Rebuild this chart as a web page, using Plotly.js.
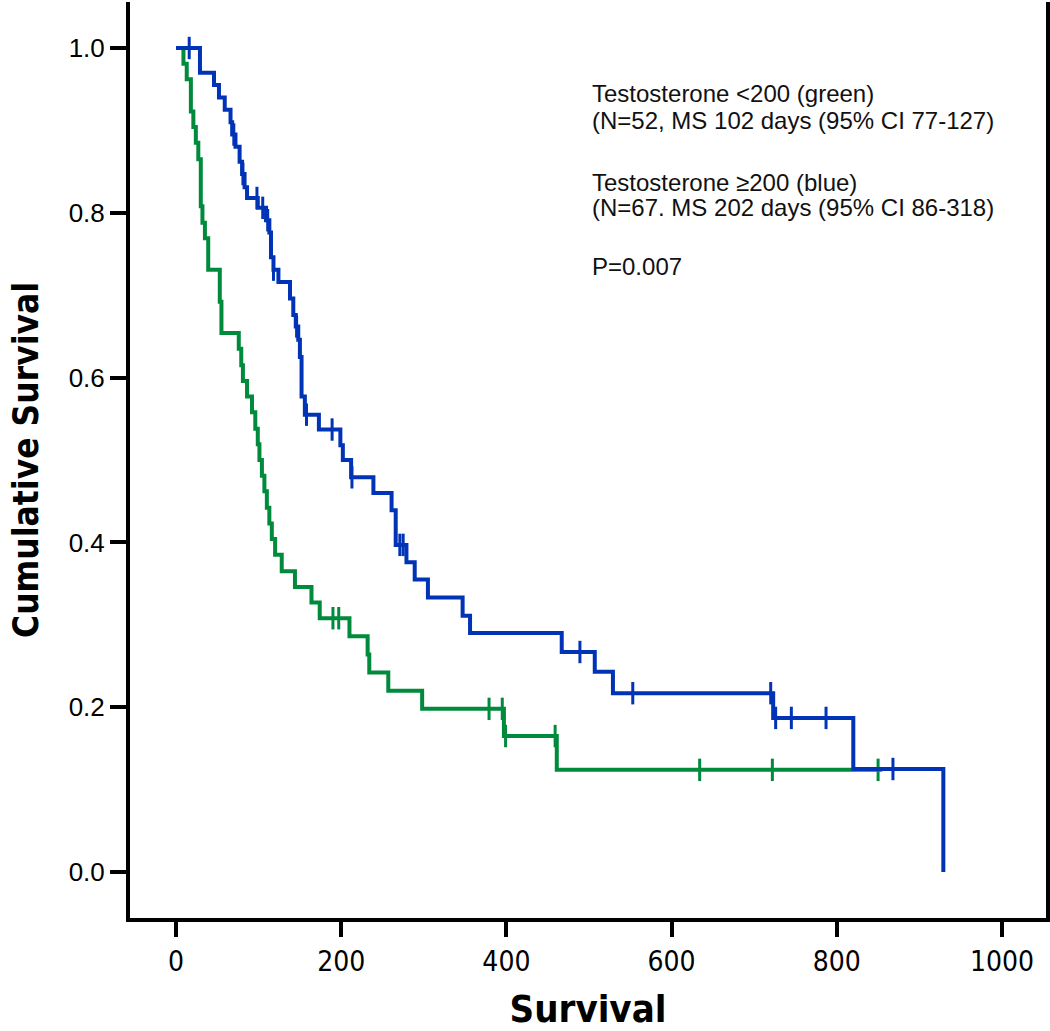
<!DOCTYPE html>
<html>
<head>
<meta charset="utf-8">
<script src="https://cdn.plot.ly/plotly-3.0.1.min.js"></script>
<style>html,body{margin:0;padding:0;background:#fff;}#chart{width:1050px;height:1031px;}</style>
</head>
<body>
<div id="chart"></div>
<script>
// Testosterone <200 (green), N=52 : step times (days) and cumulative survival
const greenTimes = [0, 9, 13, 18, 21, 24, 27, 30, 32, 35, 39, 53, 55, 76, 79, 81, 86, 92, 96, 99, 101, 104, 107, 110, 113, 116, 120, 128, 144, 164, 174, 210, 232, 234, 257, 298, 397, 461, 855];
const greenSurv  = [1.0, 0.981, 0.962, 0.923, 0.904, 0.885, 0.865, 0.808, 0.788, 0.769, 0.731, 0.692, 0.654, 0.635, 0.615, 0.596, 0.577, 0.558, 0.538, 0.519, 0.500, 0.481, 0.462, 0.442, 0.423, 0.404, 0.385, 0.365, 0.346, 0.327, 0.308, 0.286, 0.264, 0.242, 0.220, 0.198, 0.165, 0.124, 0.124];
const greenCensorTimes = [190, 197, 379, 395, 399, 459, 634, 722, 850];
const greenCensorSurv  = [0.308, 0.308, 0.198, 0.198, 0.165, 0.165, 0.124, 0.124, 0.124];

// Testosterone >=200 (blue), N=67
const blueTimes = [0, 29, 46, 52, 59, 66, 68, 72, 77, 80, 83, 86, 99, 109, 113, 115, 118, 124, 138, 142, 145, 148, 150, 152, 156, 173, 199, 202, 212, 239, 261, 266, 279, 289, 305, 347, 356, 467, 507, 529, 723, 820, 929];
const blueSurv  = [1.0, 0.970, 0.955, 0.940, 0.925, 0.910, 0.895, 0.880, 0.862, 0.847, 0.831, 0.818, 0.806, 0.791, 0.776, 0.746, 0.731, 0.716, 0.696, 0.676, 0.662, 0.646, 0.625, 0.577, 0.555, 0.537, 0.518, 0.500, 0.479, 0.460, 0.439, 0.397, 0.376, 0.355, 0.333, 0.311, 0.290, 0.267, 0.243, 0.217, 0.187, 0.125, 0.0];
const blueCensorTimes = [16, 70, 81, 98, 105, 111, 118, 146, 158, 189, 213, 271, 275, 489, 553, 720, 726, 745, 787, 868];
const blueCensorSurv  = [1.0, 0.895, 0.847, 0.818, 0.806, 0.791, 0.731, 0.662, 0.555, 0.537, 0.479, 0.397, 0.397, 0.267, 0.217, 0.217, 0.187, 0.187, 0.187, 0.125];

const xTicks = [0, 200, 400, 600, 800, 1000];
const yTicks = [0.0, 0.2, 0.4, 0.6, 0.8, 1.0];

const noteLines = [
  "Testosterone <200 (green)",
  "(N=52, MS 102 days (95% CI 77-127)",
  "Testosterone \u2265200 (blue)",
  "(N=67. MS 202 days (95% CI 86-318)",
  "P=0.007"
];
const noteY = [0.945, 0.912, 0.837, 0.806, 0.735];

const GREEN = '#008a3b';
const BLUE = '#0033b5';
const NARROW = 'Liberation Sans Narrow, Arial Narrow, DejaVu Sans Condensed, sans-serif';

const traces = [
  {x: greenTimes, y: greenSurv, mode: 'lines', line: {shape: 'hv', color: GREEN, width: 4}, hoverinfo: 'skip'},
  {x: greenCensorTimes, y: greenCensorSurv, mode: 'markers',
   marker: {symbol: 'line-ns', size: 16, color: GREEN, line: {color: GREEN, width: 3}}, hoverinfo: 'skip'},
  {x: blueTimes, y: blueSurv, mode: 'lines', line: {shape: 'hv', color: BLUE, width: 4}, hoverinfo: 'skip'},
  {x: blueCensorTimes, y: blueCensorSurv, mode: 'markers',
   marker: {symbol: 'line-ns', size: 16, color: BLUE, line: {color: BLUE, width: 3}}, hoverinfo: 'skip'}
];

const annotations = noteLines.map((t, i) => ({
  text: t, x: 501, y: noteY[i], xref: 'x', yref: 'y', xanchor: 'left', yanchor: 'middle',
  showarrow: false, font: {family: 'Liberation Sans, Arial, sans-serif', size: 24, color: '#111'}
}));

const layout = {
  width: 1050, height: 1031,
  margin: {l: 130, r: 4, t: 2, b: 113, pad: 0},
  paper_bgcolor: '#fff', plot_bgcolor: '#fff',
  showlegend: false,
  xaxis: {
    range: [-55.7, 1053.3], tickvals: xTicks, ticktext: xTicks.map(String),
    showgrid: false, zeroline: false,
    showline: true, linecolor: '#000', linewidth: 4, mirror: false,
    ticks: 'outside', ticklen: 15, tickwidth: 4, tickcolor: '#000',
    tickfont: {family: NARROW, size: 28, color: '#000'},
    title: {text: 'Survival', standoff: 38,
      font: {family: NARROW, size: 38, color: '#000', weight: 'bold'}}
  },
  yaxis: {
    range: [-0.0558, 1.0558], tickvals: yTicks, ticktext: yTicks.map(v => v.toFixed(1)),
    showgrid: false, zeroline: false,
    showline: true, linecolor: '#000', linewidth: 4, mirror: true,
    ticks: 'outside', ticklen: 16, tickwidth: 4, tickcolor: '#000',
    tickfont: {family: 'Liberation Sans, Arial, sans-serif', size: 26, color: '#000'},
    title: {text: 'Cumulative Survival', standoff: 20,
      font: {family: NARROW, size: 35, color: '#000', weight: 'bold'}}
  },
  annotations: annotations
};

Plotly.newPlot('chart', traces, layout, {staticPlot: true, displayModeBar: false});
</script>
</body>
</html>
